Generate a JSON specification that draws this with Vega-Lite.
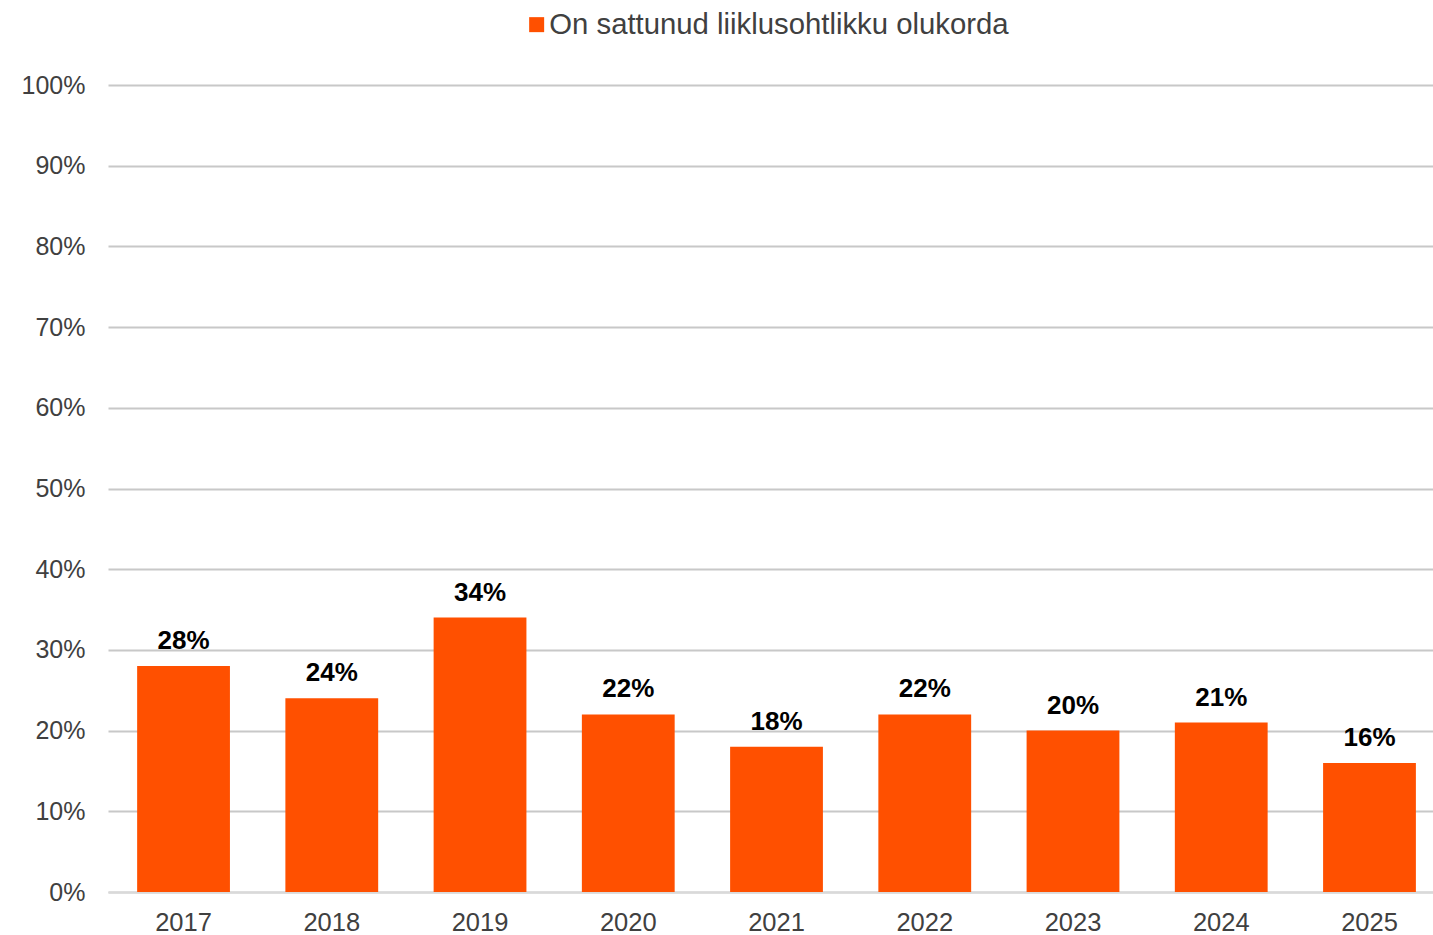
{
  "$schema": "https://vega.github.io/schema/vega-lite/v6.json",
  "width": 1325,
  "height": 807,
  "autosize": {"type": "none"},
  "padding": {"left": 108, "top": 85, "right": 0, "bottom": 43},
  "background": "white",
  "config": {
    "font": "Liberation Sans",
    "view": {"stroke": null}
  },
  "data": {
    "values": [
      {"year": "2017", "value": 0.28, "series": "On sattunud liiklusohtlikku olukorda"},
      {"year": "2018", "value": 0.24, "series": "On sattunud liiklusohtlikku olukorda"},
      {"year": "2019", "value": 0.34, "series": "On sattunud liiklusohtlikku olukorda"},
      {"year": "2020", "value": 0.22, "series": "On sattunud liiklusohtlikku olukorda"},
      {"year": "2021", "value": 0.18, "series": "On sattunud liiklusohtlikku olukorda"},
      {"year": "2022", "value": 0.22, "series": "On sattunud liiklusohtlikku olukorda"},
      {"year": "2023", "value": 0.20, "series": "On sattunud liiklusohtlikku olukorda"},
      {"year": "2024", "value": 0.21, "series": "On sattunud liiklusohtlikku olukorda"},
      {"year": "2025", "value": 0.16, "series": "On sattunud liiklusohtlikku olukorda"}
    ]
  },
  "encoding": {
    "x": {
      "field": "year", "type": "nominal", "title": null,
      "scale": {"paddingInner": 0.374, "paddingOuter": 0.156, "align": 0.63},
      "axis": {"labelAngle": 0, "labelFontSize": 25.5, "labelColor": "#404040", "ticks": false, "domain": true, "domainColor": "#d9d9d9", "domainWidth": 2, "labelPadding": 18, "grid": false}
    },
    "y": {
      "field": "value", "type": "quantitative", "title": null,
      "scale": {"domain": [0, 1]},
      "axis": {"format": ".0%", "values": [0,0.1,0.2,0.3,0.4,0.5,0.6,0.7,0.8,0.9,1], "labelFontSize": 25, "labelColor": "#404040", "ticks": false, "domain": false, "gridColor": "#c8c8c8", "gridWidth": 2, "labelPadding": 23}
    }
  },
  "layer": [
    {
      "mark": {"type": "bar", "color": "#FF5000"},
      "encoding": {
        "color": {
          "field": "series", "type": "nominal",
          "scale": {"range": ["#FF5000"]},
          "legend": {"title": null, "orient": "none", "legendX": 414, "legendY": -75, "symbolType": "square", "symbolSize": 225, "symbolStrokeWidth": 0, "labelFontSize": 29.3, "labelColor": "#404040", "labelLimit": 0, "padding": 0, "symbolOffset": 0, "labelOffset": -2}
        }
      }
    },
    {
      "mark": {"type": "text", "baseline": "bottom", "dy": -12, "fontSize": 26, "fontWeight": "bold", "color": "black"},
      "encoding": {"text": {"field": "value", "type": "quantitative", "format": ".0%"}}
    }
  ]
}
